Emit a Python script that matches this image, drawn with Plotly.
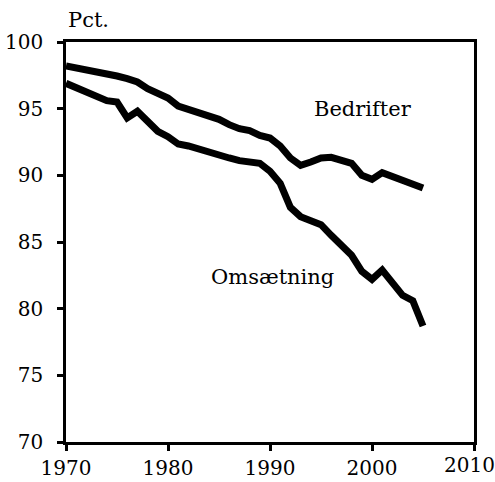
import plotly.graph_objects as go

years = list(range(1970, 2006))
bedrifter = [98.2, 98.05, 97.95, 97.85, 97.7, 97.45, 97.25, 97.0, 96.5, 96.1,
             95.8, 95.2, 94.95, 94.7, 94.5, 94.2, 93.8, 93.5, 93.35, 93.0,
             92.8, 92.2, 91.3, 90.75, 91.0, 91.3, 91.35, 91.1, 90.9, 90.0,
             89.7, 90.2, 89.9, 89.6, 89.4, 89.05]
omsaetning = [96.9, 96.6, 96.3, 96.0, 95.6, 95.5, 94.3, 94.8, 94.0, 93.3,
              92.9, 92.35, 92.2, 91.95, 91.75, 91.55, 91.3, 91.1, 91.0, 90.9,
              90.3, 89.4, 87.6, 86.9, 86.6, 86.3, 85.5, 84.8, 84.0, 82.8,
              82.2, 82.9, 82.0, 81.0, 80.6, 78.7]
x_ticks = [1970, 1980, 1990, 2000, 2010]
y_ticks = [70, 75, 80, 85, 90, 95, 100]

FONT = "DejaVu Serif"
FS = 21
TFS = 20

fig = go.Figure()
fig.add_trace(go.Scatter(x=years, y=bedrifter, mode="lines", name="Bedrifter",
                         line=dict(color="black", width=7)))
fig.add_trace(go.Scatter(x=years, y=omsaetning, mode="lines", name="Omsætning",
                         line=dict(color="black", width=7)))

fig.add_annotation(x=1999.1, y=94.95, text="Bedrifter", showarrow=False,
                   font=dict(family=FONT, size=FS, color="black"))
fig.add_annotation(x=1990.2, y=82.35, text="Omsætning", showarrow=False,
                   font=dict(family=FONT, size=FS, color="black"))
fig.add_annotation(xref="paper", yref="paper", x=0, y=1, yshift=8,
                   xanchor="left", yanchor="bottom", text="Pct.", showarrow=False,
                   font=dict(family=FONT, size=FS, color="black"))

# last x tick label nudged left so it stays inside the window
last = x_ticks[-1]
fig.add_annotation(x=last, xref="x", yref="paper", y=0, yshift=-9, xshift=-5,
                   xanchor="center", yanchor="top", text=str(last), showarrow=False,
                   font=dict(family=FONT, size=TFS, color="black"))

fig.update_layout(
    width=495, height=482,
    margin=dict(l=66, r=21, t=42, b=40, autoexpand=False),
    plot_bgcolor="white", paper_bgcolor="white",
    showlegend=False,
    font=dict(family=FONT, size=TFS, color="black"),
)
fig.update_xaxes(range=[1970, 2010], tickvals=x_ticks,
                 ticktext=[str(t) for t in x_ticks[:-1]] + [""],
                 showgrid=False, zeroline=False,
                 automargin=False,
                 showline=True, linecolor="black", linewidth=2.5, mirror=True,
                 ticks="outside", ticklen=6, tickwidth=2.5, tickcolor="black")
fig.update_yaxes(range=[70, 100], tickvals=y_ticks, showgrid=False, zeroline=False,
                 automargin=False,
                 showline=True, linecolor="black", linewidth=2.5, mirror=True,
                 ticks="outside", ticklen=6, tickwidth=2.5, tickcolor="black",
                 ticklabelstandoff=10)

fig.write_html("out.html", config={"displayModeBar": False},
               post_script="document.body.style.margin='0';document.body.style.overflow='hidden';")
